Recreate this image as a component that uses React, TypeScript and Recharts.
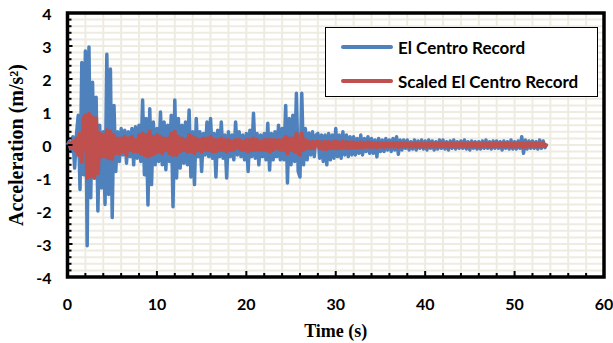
import React from 'react';
import { LineChart, Line, XAxis, YAxis, CartesianGrid, ReferenceArea, Legend } from 'recharts';

// sampling step of the digitised record (s)
const dt = 0.2;

// El Centro ground acceleration (m/s^2), one row = 2 s
const elCentro: number[] = [
  0.0, 0.1, -0.2, 0.25, -0.7, 0.3, 0.9, -1.35, 2.5, -0.9,
  2.85, -3.05, 2.97, -1.6, 1.9, -0.9, 1.45, -2.0, 0.6, -1.3,
  0.4, -1.8, 2.75, -1.5, 2.3, -2.2, 1.2, -0.8, 0.4, -0.5,
  0.5, -0.3, 0.45, -0.55, 0.4, -0.35, 0.5, -0.6, 0.55, -0.4,
  0.6, -0.5, 1.36, -0.9, 0.8, -1.82, 1.1, -1.2, 0.7, -0.6,
  0.5, -0.5, 1.0, -0.6, 0.7, -0.75, 0.6, -0.5, 0.9, -1.87,
  1.36, -1.0, 0.8, -0.7, 0.6, -0.55, 0.7, -0.6, 1.06, -0.97,
  0.4, -1.2, 0.8, -0.35, 0.4, -0.8, 0.35, -0.3, 0.7, -0.35,
  0.8, -0.4, 0.35, -0.97, 0.45, -0.35, 0.7, -0.4, 0.3, -1.0,
  0.4, -0.35, 0.3, -0.45, 0.7, -0.3, 0.4, -0.35, 0.3, -0.45,
  0.35, -0.8, 0.45, -0.35, 0.96, -0.4, 0.35, -0.6, 0.3, -0.35,
  0.35, -0.45, 0.66, -0.76, 0.35, -0.45, 0.4, -0.35, 0.6, -0.45,
  0.5, -0.45, 1.2, -1.15, 0.8, -0.6, 0.9, -0.5, 1.57, -0.8,
  -0.97, 1.57, -0.6, 0.5, -0.45, 0.36, -0.3, 0.4, -0.35, 0.3,
  0.35, -0.4, 0.3, -0.5, 0.3, -0.6, 0.35, -0.45, 0.3, -0.4,
  0.5, -0.35, 0.3, -0.4, 0.4, -0.3, 0.3, -0.35, 0.25, -0.3,
  0.25, -0.3, 0.2, -0.25, 0.3, -0.3, 0.2, -0.2, 0.25, -0.25,
  0.2, -0.25, 0.15, -0.36, 0.2, -0.2, 0.15, -0.2, 0.2, -0.15,
  0.15, -0.2, 0.2, -0.15, 0.25, -0.28, 0.15, -0.15, 0.15, -0.1,
  0.15, -0.15, 0.1, -0.12, 0.15, -0.15, 0.12, -0.1, 0.15, -0.12,
  0.12, -0.15, 0.15, -0.1, 0.12, -0.15, 0.1, -0.12, 0.15, -0.1,
  0.15, -0.12, 0.1, -0.15, 0.12, -0.1, 0.15, -0.12, 0.1, -0.1,
  0.12, -0.1, 0.15, -0.12, 0.1, -0.15, 0.12, -0.1, 0.1, -0.12,
  0.1, -0.12, 0.12, -0.1, 0.15, -0.1, 0.1, -0.12, 0.12, -0.1,
  0.12, -0.1, 0.1, -0.15, 0.12, -0.1, 0.1, -0.12, 0.15, -0.12,
  0.1, -0.12, 0.12, -0.1, 0.25, -0.25, 0.15, -0.12, 0.12, -0.1,
  0.12, -0.1, 0.1, -0.12, 0.15, -0.1, 0.12, -0.08, 0.05,
];

// Scaled El Centro acceleration (m/s^2)
const scaledElCentro: number[] = [
  0.0, 0.05, -0.08, 0.1, -0.15, 0.2, -0.3, 0.35, -0.5, 0.8,
  0.9, -1.0, 0.95, -0.95, 0.85, -1.0, 0.8, -0.85, 0.35, -0.35,
  0.3, -0.35, 0.45, -0.4, 0.4, -0.42, 0.3, -0.25, 0.2, -0.25,
  0.2, -0.2, 0.25, -0.3, 0.2, -0.15, 0.25, -0.2, 0.15, -0.2,
  0.3, -0.25, 0.35, -0.3, 0.3, -0.35, 0.4, -0.3, 0.25, -0.25,
  0.3, -0.2, 0.25, -0.25, 0.2, -0.15, 0.2, -0.25, 0.35, -0.3,
  0.4, -0.3, 0.25, -0.2, 0.2, -0.15, 0.15, -0.2, 0.3, -0.2,
  0.25, -0.25, 0.2, -0.15, 0.15, -0.2, 0.2, -0.15, 0.2, -0.15,
  0.25, -0.2, 0.15, -0.2, 0.15, -0.15, 0.2, -0.15, 0.15, -0.2,
  0.15, -0.15, 0.1, -0.15, 0.15, -0.1, 0.15, -0.15, 0.1, -0.15,
  0.15, -0.2, 0.15, -0.15, 0.2, -0.15, 0.15, -0.15, 0.1, -0.15,
  0.15, -0.15, 0.15, -0.2, 0.15, -0.15, 0.15, -0.1, 0.15, -0.15,
  0.15, -0.15, 0.25, -0.25, 0.2, -0.15, 0.2, -0.2, 0.35, -0.25,
  -0.3, 0.35, -0.15, 0.15, -0.1, 0.1, -0.1, 0.1, -0.1, 0.1,
  0.1, -0.1, 0.08, -0.12, 0.1, -0.12, 0.1, -0.1, 0.08, -0.1,
  0.12, -0.1, 0.08, -0.1, 0.1, -0.08, 0.08, -0.1, 0.08, -0.08,
  0.08, -0.08, 0.06, -0.08, 0.08, -0.08, 0.06, -0.06, 0.08, -0.06,
  0.06, -0.06, 0.05, -0.08, 0.06, -0.05, 0.05, -0.06, 0.06, -0.05,
  0.05, -0.05, 0.06, -0.05, 0.06, -0.06, 0.05, -0.05, 0.05, -0.04,
  0.05, -0.05, 0.04, -0.05, 0.05, -0.05, 0.04, -0.04, 0.05, -0.05,
  0.04, -0.05, 0.05, -0.04, 0.05, -0.05, 0.04, -0.05, 0.05, -0.04,
  0.05, -0.04, 0.04, -0.05, 0.05, -0.04, 0.05, -0.05, 0.04, -0.04,
  0.05, -0.04, 0.05, -0.05, 0.04, -0.05, 0.05, -0.04, 0.04, -0.05,
  0.04, -0.05, 0.05, -0.04, 0.05, -0.04, 0.04, -0.05, 0.05, -0.04,
  0.05, -0.04, 0.04, -0.05, 0.05, -0.04, 0.04, -0.05, 0.05, -0.05,
  0.04, -0.05, 0.05, -0.04, 0.06, -0.06, 0.05, -0.05, 0.05, -0.04,
  0.05, -0.04, 0.04, -0.05, 0.05, -0.04, 0.05, -0.03, 0.02,
];

const xMajorTicks = [0, 10, 20, 30, 40, 50, 60];
const xTicks = [0, 2, 4, 6, 8, 10, 12, 14, 16, 18, 20, 22, 24, 26, 28, 30, 32, 34, 36, 38, 40, 42, 44, 46, 48, 50, 52, 54, 56, 58, 60];
const yMajorTicks = [-4, -3, -2, -1, 0, 1, 2, 3, 4];
const yMinorStep = 0.2;
const yTicks = Array.from({ length: 41 }, (_, i) => Math.round((-4 + i * yMinorStep) * 10) / 10);

const seriesNames = { el: 'El Centro Record', scaled: 'Scaled El Centro Record' };
const colors = { el: '#4F81BD', scaled: '#C0504D' };

const data = elCentro.map((v, i) => ({
  t: Math.round(i * dt * 10) / 10,
  el: v,
  scaled: scaledElCentro[i],
}));

const TICK_FONT = 'Lato, "Open Sans", sans-serif';
const TITLE_FONT = '"Liberation Serif", "Times New Roman", serif';
const X_MARGIN = 20;
const Y_MARGIN = 16;

const XTick = (props: any) => {
  const { x, y, payload } = props;
  const axisY = y - X_MARGIN;
  const v = payload.value;
  const major = xMajorTicks.includes(v);
  return (
    <g>
      <line x1={x} x2={x} y1={axisY} y2={axisY - (major ? 6 : 4)} stroke="#000" strokeWidth={2} />
      {major && (
        <text x={x} y={axisY + 26} textAnchor="middle" dominantBaseline="central"
          fontFamily={TICK_FONT} fontWeight={700} fontSize={16} fill="#000">{v}</text>
      )}
    </g>
  );
};

const YTick = (props: any) => {
  const { x, y, payload } = props;
  const axisX = x + Y_MARGIN;
  const v = payload.value;
  const major = yMajorTicks.includes(v);
  return (
    <g>
      <line x1={axisX} x2={axisX + (major ? 5 : 4)} y1={y} y2={y} stroke="#000" strokeWidth={2} />
      {major && (
        <text x={x} y={y} textAnchor="end" dominantBaseline="central"
          fontFamily={TICK_FONT} fontWeight={700} fontSize={16} fill="#000">{v}</text>
      )}
    </g>
  );
};

const LegendBox = (props: any) => {
  const { payload } = props;
  return (
    <div style={{
      width: 273, height: 70, boxSizing: 'border-box', border: '1.5px solid #000', background: '#fff',
      position: 'relative',
    }}>
      {(payload || []).map((entry: any, i: number) => (
        <div key={entry.value} style={{ position: 'absolute', left: 15, top: i === 0 ? 8 : 42, height: 22, display: 'flex', alignItems: 'center' }}>
          <div style={{ width: 52, height: 4, background: entry.color, borderRadius: 2 }} />
          <span style={{ marginLeft: 5, fontFamily: TICK_FONT, fontWeight: 700, fontSize: 17, color: '#000', whiteSpace: 'nowrap' }}>
            {entry.value}
          </span>
        </div>
      ))}
    </div>
  );
};

const YTitle = (props: any) => {
  const { viewBox } = props;
  const cx = viewBox.x + 16;
  const cy = viewBox.y + viewBox.height / 2;
  return (
    <text x={cx} y={cy} transform={`rotate(-90, ${cx}, ${cy})`} textAnchor="middle" dominantBaseline="central"
      fontFamily={TITLE_FONT} fontWeight={700} fontSize={20} fill="#000">
      Acceleration (m/s²)
    </text>
  );
};

export default function App() {
  return (
    <div style={{ position: 'absolute', left: 0, top: 0, width: 613, height: 343, background: '#fff' }}>
      <LineChart width={613} height={343} data={data} margin={{ top: 13, right: 9, bottom: 0, left: 0 }}>
        <CartesianGrid stroke="#EEEBE0" strokeWidth={2} />
        <XAxis dataKey="t" type="number" domain={[0, 60]} ticks={xTicks} interval={0}
          height={66} tickSize={0} tickMargin={X_MARGIN} axisLine={false} tick={<XTick />}
          label={{ value: 'Time (s)', position: 'insideBottom', offset: 6, fontFamily: TITLE_FONT, fontWeight: 700, fontSize: 18, fill: '#000' }} />
        <YAxis type="number" domain={[-4, 4]} ticks={yTicks} interval={0} width={67.5}
          tickSize={0} tickMargin={Y_MARGIN} axisLine={false} tick={<YTick />}
          label={(p: any) => <YTitle {...p} />} />
        <Line dataKey="el" name={seriesNames.el} stroke={colors.el} strokeWidth={3.5} dot={false}
          strokeLinejoin="round" isAnimationActive={false} />
        <Line dataKey="scaled" name={seriesNames.scaled} stroke={colors.scaled} strokeWidth={4} dot={false}
          strokeLinejoin="round" isAnimationActive={false} />
        <ReferenceArea x1={0} x2={60} y1={-4} y2={4} fill="none" stroke="#000" strokeWidth={3.5} ifOverflow="visible" />
        <Legend layout="horizontal" verticalAlign="middle" align="center" content={<LegendBox />}
          wrapperStyle={{ position: 'absolute', left: 325, top: 27, width: 273, height: 70 }} />
      </LineChart>
    </div>
  );
}
